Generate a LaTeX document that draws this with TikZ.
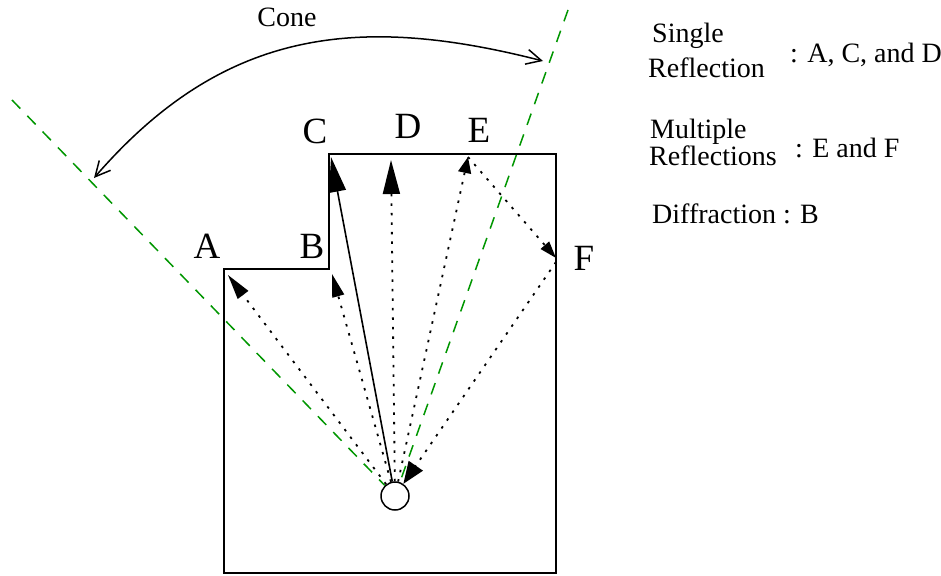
\documentclass[tikz,border=0pt]{standalone}
\usepackage{fontspec}
\setmainfont{Liberation Serif}
\newfontfamily\timesfont{Liberation Serif}
\usetikzlibrary{arrows.meta}
\definecolor{conegreen}{RGB}{0,150,0}
\begin{document}
\begin{tikzpicture}[x=1pt,y=-1pt,
  wall/.style={line width=1.6pt, line join=miter},
  ray/.style={line width=1.8pt, dash pattern=on 2.5pt off 7pt},
  solidray/.style={line width=1.6pt},
  conedash/.style={conegreen, line width=1.5pt, dash pattern=on 12pt off 10pt},
  conearc/.style={line width=1.5pt, {Straight Barb[length=15pt,width=15pt,line width=1.5pt]}-{Straight Barb[length=15pt,width=15pt,line width=1.5pt]}},
  srcnode/.style={circle, draw, line width=1.5pt, minimum size=28pt, inner sep=0pt, fill=white},
  biglabel/.style={font=\timesfont\fontsize{37}{37}\selectfont, inner sep=0pt, anchor=base},
  legend/.style={font=\timesfont\fontsize{28}{28}\selectfont, inner sep=0pt, anchor=base west},
]
\useasboundingbox (0,0) rectangle (941,575);

% building
\draw[wall] (224,573) -- (224,269) -- (329,269) -- (329,154) -- (556,154) -- (556,573) -- cycle;

% source
\node[srcnode] (src) at (395,496) {};

% reflection points
\coordinate (pA) at (228,275);
\coordinate (pB) at (332,274);
\coordinate (pC) at (331,157);
\coordinate (pD) at (391,160);
\coordinate (pE) at (468,157);
\coordinate (pF) at (556,258);
\coordinate (pF2) at (556,262);

% cone boundaries
\coordinate (gl) at (12,100);
\coordinate (gr) at (568,10);
\draw[conedash] (gl) -- (src);
\draw[conedash] (gr) -- (src);

% rays
\draw[ray, -{Triangle[length=25pt,width=13pt]}] (src) -- (pA);
\draw[ray, -{Triangle[length=23pt,width=12pt]}] (src) -- (pB);
\draw[solidray, -{Triangle[length=35pt,width=17pt]}] (src) -- (pC);
\draw[ray, -{Triangle[length=34pt,width=17pt]}] (src) -- (pD);
\draw[ray, -{Triangle[length=16pt,width=13pt]}] (src) -- (pE);
\draw[ray, -{Triangle[length=17pt,width=11pt]}] (pE) -- (pF);
\draw[ray, -{Triangle[length=22pt,width=17pt]}] (pF2) -- (src);

% cone arc
\coordinate (c1) at (94,178);
\coordinate (c2) at (543,61);
\draw[conearc] (c1) .. controls (224,28) and (359,14) .. (c2);
\node[legend, anchor=base] (cone) at (287,27) {Cone};

% point labels
\node[biglabel] (lA) at (207,258) {A};
\node[biglabel] (lB) at (312,258) {B};
\node[biglabel] (lC) at (315,143) {C};
\node[biglabel] (lD) at (408,139) {D};
\node[biglabel] (lE) at (479,142) {E};
\node[biglabel] (lF) at (584,270) {F};

% legend
\node[legend] (l1) at (652,43) {Single};
\node[legend] (l2) at (648,78) {Reflection};
\node[legend] (l3) at (790,63) {: A, C, and D};
\node[legend] (l4) at (650,138) {Multiple};
\node[legend] (l5) at (649,165) {Reflections};
\node[legend] (l6) at (795,157) {: E and F};
\node[legend] (l7) at (652,223) {Diffraction : B};
\end{tikzpicture}
\end{document}
